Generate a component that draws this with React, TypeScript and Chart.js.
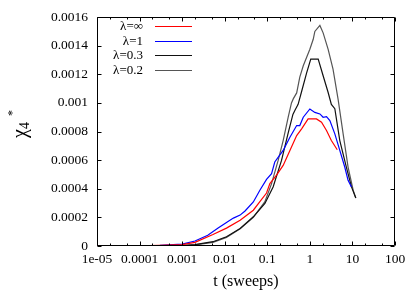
import React, { useEffect, useRef } from "react";
import { Chart, registerables } from "chart.js";

Chart.register(...registerables);

// ---- data ----
const redT = [1e-5, 1e-4, 3e-4, 1e-3, 2e-3, 5.3e-3, 0.011, 0.023, 0.047, 0.067, 0.096, 0.115, 0.165, 0.236, 0.34, 0.49, 0.64, 0.91, 1.43, 1.88, 2.46, 3.2, 4.4];
const redV = [0, 0.000001, 0.000004, 0.00001, 0.000025, 0.00008, 0.000125, 0.00018, 0.00025, 0.00031, 0.00037, 0.000436, 0.000495, 0.000563, 0.000668, 0.000772, 0.000819, 0.000888, 0.000888, 0.000865, 0.000807, 0.000737, 0.000673];

const blueT = [1e-5, 1e-4, 3e-4, 1e-3, 2e-3, 4e-3, 7e-3, 0.011, 0.016, 0.023, 0.03, 0.047, 0.067, 0.096, 0.126, 0.15, 0.236, 0.34, 0.49, 0.58, 0.7, 1.0, 1.31, 1.72, 2.05, 2.46, 2.95, 3.86, 5.05, 6.6, 7.9, 9.5];
const blueV = [0, 0.000002, 0.000005, 0.000013, 0.000035, 0.000075, 0.000125, 0.000165, 0.000195, 0.000216, 0.000245, 0.000308, 0.00039, 0.000465, 0.000506, 0.000587, 0.000668, 0.00076, 0.000842, 0.000842, 0.0009, 0.000958, 0.000934, 0.000923, 0.0009, 0.000904, 0.000877, 0.000784, 0.000668, 0.000552, 0.000459, 0.000413];

const blackT = [1e-5, 1e-4, 1e-3, 2e-3, 5.3e-3, 0.011, 0.023, 0.047, 0.088, 0.137, 0.216, 0.31, 0.4, 0.45, 0.53, 0.64, 0.84, 1.05, 1.57, 2.05, 2.69, 3.2, 3.86, 5.05, 7.2, 9.5, 12];
const blackV = [0, 0, 0.000003, 0.00001, 0.00003, 0.000065, 0.000123, 0.000204, 0.000297, 0.000413, 0.000598, 0.00079, 0.00092, 0.00095, 0.00099, 0.00108, 0.00121, 0.001306, 0.001306, 0.00119, 0.001073, 0.00099, 0.00096, 0.000737, 0.000552, 0.000413, 0.000336];

const grayT = [1e-5, 1e-3, 2e-3, 5.3e-3, 0.011, 0.023, 0.047, 0.088, 0.126, 0.18, 0.236, 0.31, 0.37, 0.41, 0.49, 0.58, 0.7, 1.0, 1.2, 1.31, 1.72, 2.05, 2.69, 3.5, 4.6, 6.05, 7.9, 10.4, 12];
const grayV = [0, 0.000002, 0.000008, 0.000025, 0.00006, 0.00012, 0.0002, 0.00031, 0.000436, 0.000598, 0.000737, 0.0009, 0.001, 0.00103, 0.00107, 0.00118, 0.00126, 0.001375, 0.001445, 0.0015, 0.001542, 0.00149, 0.001375, 0.001236, 0.001027, 0.000784, 0.000552, 0.00039, 0.000336];

const seriesLabels = ["λ=∞", "λ=1", "λ=0.3", "λ=0.2"];
const seriesColors = ["#ff0000", "#0000ff", "#111111", "#555555"];

const xTickValues = [1e-5, 1e-4, 1e-3, 1e-2, 1e-1, 1, 10, 100];
const xTickLabels = ["1e-05", "0.0001", "0.001", "0.01", "0.1", "1", "10", "100"];
const yTickValues = [0, 0.0002, 0.0004, 0.0006, 0.0008, 0.001, 0.0012, 0.0014, 0.0016];
const yTickLabels = ["0", "0.0002", "0.0004", "0.0006", "0.0008", "0.001", "0.0012", "0.0014", "0.0016"];
const xTitle = "t (sweeps)";

const FONT = "'Liberation Serif', 'Times New Roman', serif";

const pts = (t: number[], v: number[]) => t.map((x, i) => ({ x, y: v[i] }));

const decoPlugin = {
  id: "deco",
  afterDraw(chart: any) {
    const ctx = chart.ctx as CanvasRenderingContext2D;
    const { left, right, top, bottom } = chart.chartArea;
    const xs = chart.scales.x;
    const ys = chart.scales.y;
    ctx.save();
    ctx.strokeStyle = "#000";
    ctx.lineWidth = 1;
    const L = Math.round(left) + 0.5;
    const R = Math.round(right) - 0.5;
    const T = Math.round(top) + 0.5;
    const B = Math.round(bottom) - 0.5;
    ctx.beginPath();
    ctx.rect(L, T, R - L, B - T);
    ctx.stroke();
    // x ticks (inward, bottom and top)
    ctx.beginPath();
    for (let k = -5; k <= 2; k++) {
      for (const m of [1, 2, 5]) {
        const v = m * Math.pow(10, k);
        if (v > 100 * 1.0001) continue;
        const px = Math.round(xs.getPixelForValue(v)) + 0.5;
        const len = m === 1 ? 4 : 2;
        ctx.moveTo(px, B);
        ctx.lineTo(px, B - len);
        ctx.moveTo(px, T);
        ctx.lineTo(px, T + len);
      }
    }
    for (const v of yTickValues) {
      const py = Math.round(ys.getPixelForValue(v)) + 0.5;
      ctx.moveTo(L, py);
      ctx.lineTo(L + 4, py);
      ctx.moveTo(R, py);
      ctx.lineTo(R - 4, py);
    }
    ctx.stroke();

    // legend
    const rows = [26, 40.7, 55.3, 70];
    ctx.font = `13px ${FONT}`;
    ctx.textAlign = "right";
    ctx.textBaseline = "middle";
    chart.data.datasets.forEach((ds: any, i: number) => {
      const y = rows[i];
      ctx.fillStyle = "#000";
      ctx.fillText(ds.label, 143, y + 0.5);
      ctx.strokeStyle = ds.borderColor;
      ctx.lineWidth = 1.2;
      ctx.beginPath();
      ctx.moveTo(155, Math.round(y) + 0.5);
      ctx.lineTo(192, Math.round(y) + 0.5);
      ctx.stroke();
    });

    // y title: chi_4^*
    ctx.save();
    ctx.translate(26, 130);
    ctx.rotate(-Math.PI / 2);
    ctx.fillStyle = "#000";
    ctx.textAlign = "left";
    ctx.textBaseline = "alphabetic";
    ctx.font = `20px ${FONT}`;
    const wChi = ctx.measureText("χ").width;
    ctx.font = `14px ${FONT}`;
    const w4 = ctx.measureText("4").width;
    const start = -(wChi + w4) / 2;
    ctx.font = `20px ${FONT}`;
    ctx.fillText("χ", start, 0);
    ctx.font = `14px ${FONT}`;
    ctx.fillText("4", start + wChi, 3);
    ctx.font = `12px ${FONT}`;
    ctx.fillText("*", 14, -10);
    ctx.restore();

    ctx.restore();
  },
};

export default function App() {
  const ref = useRef<HTMLCanvasElement | null>(null);
  useEffect(() => {
    document.body.style.margin = "0";
    const canvas = ref.current!;
    const chart = new Chart(canvas, {
      type: "line",
      data: {
        datasets: [
          { label: seriesLabels[0], data: pts(redT, redV), borderColor: seriesColors[0] },
          { label: seriesLabels[1], data: pts(blueT, blueV), borderColor: seriesColors[1] },
          { label: seriesLabels[2], data: pts(blackT, blackV), borderColor: seriesColors[2] },
          { label: seriesLabels[3], data: pts(grayT, grayV), borderColor: seriesColors[3] },
        ].map((d) => ({ ...d, borderWidth: 1.2, pointRadius: 0, tension: 0, fill: false })),
      },
      options: {
        responsive: false,
        animation: false,
        layout: { padding: { top: 16, right: 20, left: 0, bottom: 0 } },
        plugins: { legend: { display: false }, tooltip: { enabled: false } },
        scales: {
          x: {
            type: "logarithmic",
            min: 1e-5,
            max: 100,
            afterBuildTicks: (s: any) => {
              s.ticks = xTickValues.map((value) => ({ value }));
            },
            afterFit: (s: any) => {
              s.height = 45;
            },
            grid: { display: false, drawTicks: false },
            border: { display: false },
            ticks: {
              autoSkip: false,
              maxRotation: 0,
              padding: 5,
              color: "#000",
              font: { family: FONT, size: 13.5 },
              callback: (_v: any, i: number) => xTickLabels[i],
            },
            title: {
              display: true,
              text: xTitle,
              color: "#000",
              font: { family: FONT, size: 16 },
              padding: { top: 2, bottom: 0 },
            },
          },
          y: {
            type: "linear",
            min: 0,
            max: 0.0016,
            afterBuildTicks: (s: any) => {
              s.ticks = yTickValues.map((value) => ({ value }));
            },
            afterFit: (s: any) => {
              s.width = 97;
            },
            grid: { display: false, drawTicks: false },
            border: { display: false },
            ticks: {
              padding: 9,
              color: "#000",
              font: { family: FONT, size: 13.5 },
              callback: (_v: any, i: number) => yTickLabels[i],
            },
          },
        },
      },
      plugins: [decoPlugin],
    });
    return () => chart.destroy();
  }, []);
  return <canvas ref={ref} width={415} height={291} style={{ display: "block" }} />;
}
